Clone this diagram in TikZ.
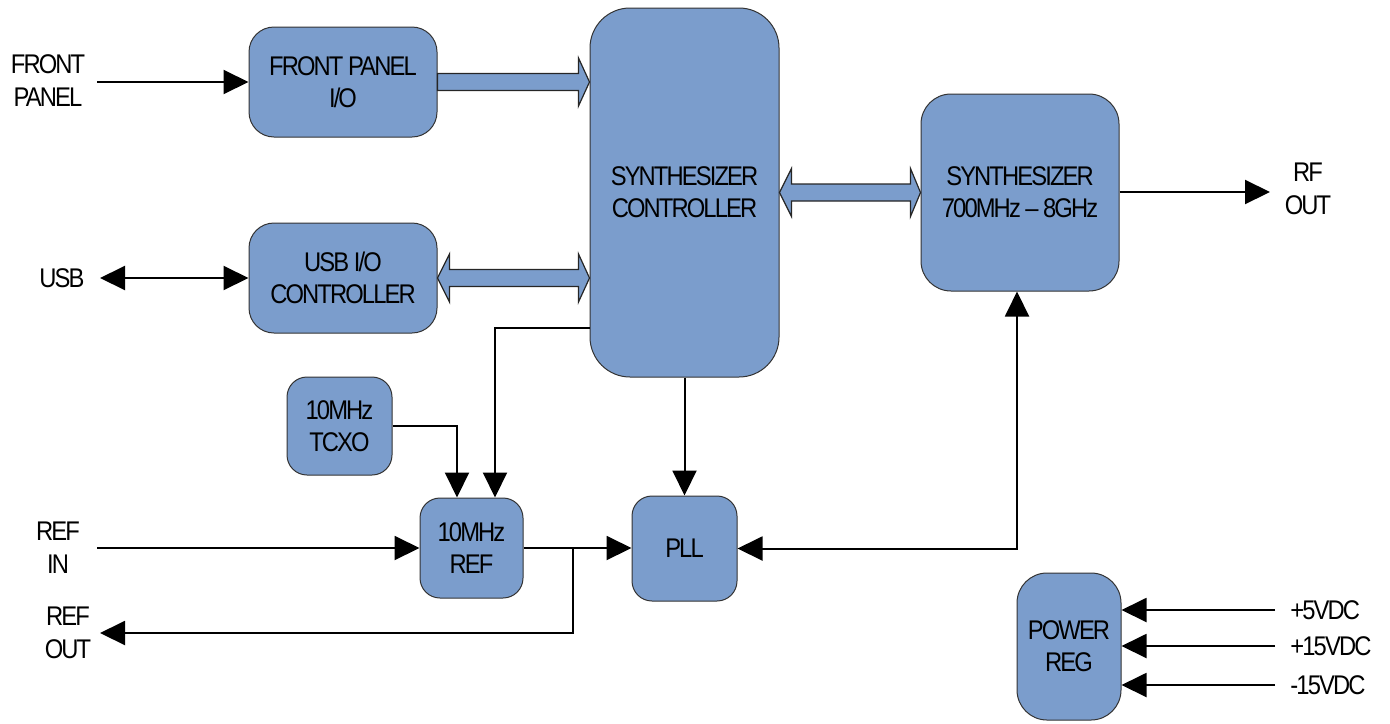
\documentclass[tikz,border=0pt]{standalone}
\usepackage{fontspec}
\setmainfont{Liberation Sans}[FakeStretch=0.88, LetterSpace=-7]
\usetikzlibrary{arrows.meta,calc}
\definecolor{boxblue}{RGB}{123,157,204}
\begin{document}
\begin{tikzpicture}[x=0.5pt,y=-0.5pt,
  blk/.style={draw=black!80, line width=0.5pt, fill=boxblue, rounded corners=12.5pt, align=center, inner sep=0pt, font=\fontsize{13.5}{16}\selectfont},
  lbl/.style={align=center, inner sep=0pt, font=\fontsize{13.5}{16.5}\selectfont},
  arr/.style={line width=1pt, -{Triangle[length=12.5pt,width=12pt]}},
  arrb/.style={line width=1pt, {Triangle[length=12.5pt,width=12pt]}-{Triangle[length=12.5pt,width=12pt]}},
  barrow/.style={draw=black!85, line width=0.6pt, fill=boxblue, line join=miter}
]
\useasboundingbox (0,0) rectangle (1390,723);

% boxes
\node[blk, minimum width=94pt, minimum height=55pt] (fp) at (343,82) {FRONT PANEL\\I/O};
\node[blk, minimum width=94pt, minimum height=55pt] (usb) at (343,278) {USB I/O\\CONTROLLER};
\node[blk, minimum width=94.5pt, minimum height=184.5pt, rounded corners=20pt] (sc) at (684.5,192.5) {SYNTHESIZER\\CONTROLLER};
\node[blk, minimum width=99pt, minimum height=98.5pt, rounded corners=15pt] (syn) at (1020,192.5) {SYNTHESIZER\\700MHz\,--\,8GHz};
\node[blk, minimum width=52.5pt, minimum height=49pt, rounded corners=10pt] (tcxo) at (339.5,426) {10MHz\\TCXO};
\node[blk, minimum width=51.5pt, minimum height=50pt, rounded corners=10pt] (ref) at (471.5,548) {10MHz\\REF};
\node[blk, minimum width=52.5pt, minimum height=52.5pt, rounded corners=10pt] (pll) at (684.5,548.5) {PLL};
\node[blk, minimum width=52pt, minimum height=73.5pt, rounded corners=15pt] (pwr) at (1069,646.5) {POWER\\REG};

% labels
\node[lbl] (lfp) at (48,81) {FRONT\\PANEL};
\node[lbl] (lusb) at (62,278) {USB};
\node[lbl] (lrefin) at (58,548) {REF\\IN};
\node[lbl] (lrefout) at (68,633) {REF\\OUT};
\node[lbl] (lrf) at (1308,189) {RF\\OUT};
\node[lbl, anchor=west] (l5) at (1290,610) {+5VDC};
\node[lbl, anchor=west] (l15) at (1290,646) {+15VDC};
\node[lbl, anchor=west] (lm15) at (1290,685) {-15VDC};

% free-end coordinates
\coordinate (fpin) at (97,82);
\coordinate (usbend) at (100,278);
\coordinate (refin) at (97,548);
\coordinate (refoutend) at (100,633);
\coordinate (rfend) at (1270,192);
\coordinate (p5) at (1275,610);
\coordinate (p15) at (1275,646);
\coordinate (pm15) at (1275,685);
\coordinate (sclvl) at (0,328);
\coordinate (tcxolvl) at (0,426);
\coordinate (br) at (573,548);

% simple connectors
\draw[arr] (fpin) -- (fp.west);
\draw[arrb] (usbend) -- (usb.west);
\draw[arr] (refin) -- (ref.west |- refin);
\draw[arr] (ref.east |- br) -- (pll.west |- br);
\draw[arr] (br) |- (refoutend);
\draw[arr] (sc.west |- sclvl) -| ([xshift=11.75pt]ref.north);
\draw[arr] (tcxo.east |- tcxolvl) -| ([xshift=-7.25pt]ref.north);
\draw[arr] (sc.south) -- (pll.north);
\draw[arrb] (pll.east) -| ([xshift=-1.5pt]syn.south);
\draw[arr] (syn.east |- rfend) -- (rfend);
\draw[arr] (p5) -- (pwr.east |- p5);
\draw[arr] (p15) -- (pwr.east |- p15);
\draw[arr] (pm15) -- (pwr.east |- pm15);

% block arrows
% FRONT PANEL I/O -> controller
\coordinate (A1) at (fp.east);
\coordinate (B1) at (sc.west |- fp.east);
\draw[barrow] ($(A1)+(0,-8.5)$) -- ($(B1)+(-11,-8.5)$) -- ($(B1)+(-11,-24)$) -- (B1)
  -- ($(B1)+(-11,24)$) -- ($(B1)+(-11,8.5)$) -- ($(A1)+(0,8.5)$) -- cycle;
% USB <-> controller
\coordinate (A2) at (usb.east);
\coordinate (B2) at (sc.west |- usb.east);
\draw[barrow] (A2) -- ($(A2)+(12,-24)$) -- ($(A2)+(12,-8.5)$) -- ($(B2)+(-11,-8.5)$)
  -- ($(B2)+(-11,-24)$) -- (B2) -- ($(B2)+(-11,24)$) -- ($(B2)+(-11,8.5)$)
  -- ($(A2)+(12,8.5)$) -- ($(A2)+(12,24)$) -- cycle;
% controller <-> synthesizer
\coordinate (A3) at (sc.east |- syn.west);
\coordinate (B3) at (syn.west);
\draw[barrow] (A3) -- ($(A3)+(12,-24)$) -- ($(A3)+(12,-8.5)$) -- ($(B3)+(-10,-8.5)$)
  -- ($(B3)+(-10,-24)$) -- (B3) -- ($(B3)+(-10,24)$) -- ($(B3)+(-10,8.5)$)
  -- ($(A3)+(12,8.5)$) -- ($(A3)+(12,24)$) -- cycle;
\end{tikzpicture}
\end{document}
